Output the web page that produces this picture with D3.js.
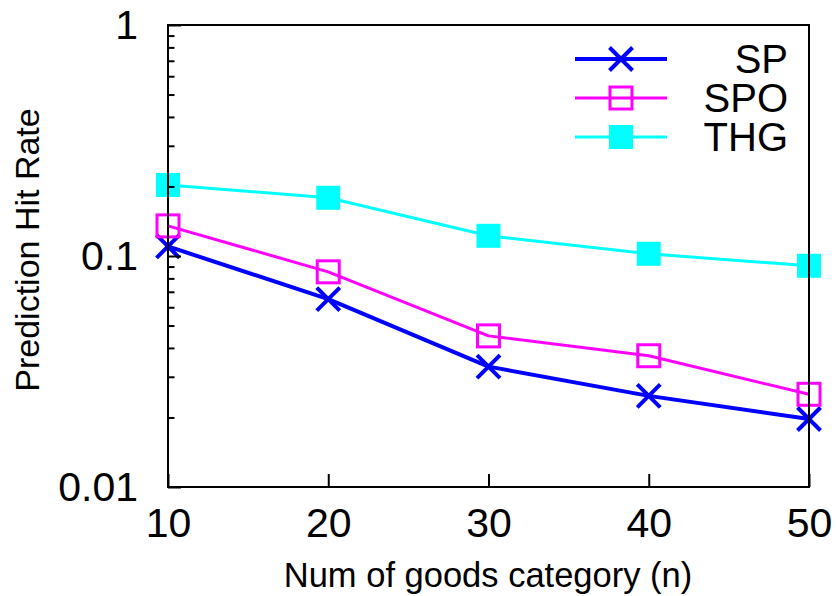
<!DOCTYPE html>
<html>
<head>
<meta charset="utf-8">
<script src="https://cdn.jsdelivr.net/npm/d3@7"></script>
<style>
  html, body { margin: 0; padding: 0; background: #fff; }
  svg { display: block; }
  text { font-family: "Liberation Sans", Arial, sans-serif; fill: #000; }
</style>
</head>
<body>
<script>
// Prediction hit rate vs. number of goods categories
const categories = [10, 20, 30, 40, 50];
const seriesNames = ["SP", "SPO", "THG"];
const spValues  = [0.110, 0.0651, 0.0332, 0.0248, 0.0197];
const spoValues = [0.135, 0.0854, 0.0451, 0.0370, 0.0252];
const thgValues = [0.203, 0.1786, 0.1223, 0.1022, 0.0907];
const xTickLabels = ["10", "20", "30", "40", "50"];
const yTickValues = [0.01, 0.1, 1];
const yTickLabels = ["0.01", "0.1", "1"];

const W = 839, H = 596;
const plot = { left: 168, right: 809, top: 25, bottom: 487 };

const svg = d3.select("body").append("svg")
  .attr("width", W).attr("height", H);

const x = d3.scaleLinear().domain([10, 50]).range([plot.left, plot.right]);
const y = d3.scaleLog().domain([0.01, 1]).range([plot.bottom, plot.top]);

const series = [
  { name: seriesNames[0], values: spValues,  color: "#0000ff", width: 4, marker: "x" },
  { name: seriesNames[1], values: spoValues, color: "#ff00ff", width: 3, marker: "box" },
  { name: seriesNames[2], values: thgValues, color: "#00ffff", width: 3, marker: "fbox" }
];

function drawMarker(g, kind, cx, cy, color) {
  if (kind === "x") {
    const r = 11.5;
    g.append("path")
      .attr("d", `M${cx - r},${cy - r}L${cx + r},${cy + r}M${cx - r},${cy + r}L${cx + r},${cy - r}`)
      .attr("stroke", color).attr("stroke-width", 4).attr("fill", "none");
  } else if (kind === "box") {
    const s = 22;
    g.append("rect")
      .attr("x", cx - s / 2).attr("y", cy - s / 2).attr("width", s).attr("height", s)
      .attr("fill", "none").attr("stroke", color).attr("stroke-width", 3);
  } else {
    const s = 24;
    g.append("rect")
      .attr("x", cx - s / 2).attr("y", cy - s / 2).attr("width", s).attr("height", s)
      .attr("fill", color);
  }
}

// Data lines and markers
const line = d3.line().x(d => x(d[0])).y(d => y(d[1]));
series.forEach(s => {
  const pts = categories.map((c, i) => [c, s.values[i]]);
  const g = svg.append("g");
  g.append("path").attr("d", line(pts))
    .attr("fill", "none").attr("stroke", s.color).attr("stroke-width", s.width)
    .attr("stroke-linejoin", "round");
  pts.forEach(p => drawMarker(g, s.marker, x(p[0]), y(p[1]), s.color));
});

// Legend
const legend = svg.append("g");
series.forEach((s, i) => {
  const ly = 59 + i * 39;
  legend.append("line").attr("x1", 575).attr("x2", 667).attr("y1", ly).attr("y2", ly)
    .attr("stroke", s.color).attr("stroke-width", s.width);
  drawMarker(legend, s.marker, 621, ly, s.color);
  legend.append("text").attr("x", 788).attr("y", ly + 14)
    .attr("text-anchor", "end").attr("font-size", 40).text(s.name);
});

// Axes (ticks point inward)
const xAxis = d3.axisBottom(x).tickValues(categories)
  .tickFormat((d, i) => xTickLabels[i]).tickSizeInner(-13).tickSizeOuter(0).tickPadding(21);
const gx = svg.append("g").attr("transform", `translate(0,${plot.bottom})`).call(xAxis);

const yAxis = d3.axisLeft(y).tickValues(yTickValues)
  .tickFormat((d, i) => yTickLabels[i]).tickSizeInner(-13).tickSizeOuter(0).tickPadding(30);
const gy = svg.append("g").attr("transform", `translate(${plot.left},0)`).call(yAxis);

const minorVals = [];
[0.01, 0.1].forEach(dec => { for (let k = 2; k <= 9; k++) minorVals.push(dec * k); });
const yMinor = d3.axisLeft(y).tickValues(minorVals).tickFormat("")
  .tickSizeInner(-6.5).tickSizeOuter(0);
const gym = svg.append("g").attr("transform", `translate(${plot.left},0)`).call(yMinor);

[gx, gy, gym].forEach(g => {
  g.select(".domain").remove();
  g.selectAll(".tick line").attr("stroke", "#000").attr("stroke-width", 2);
  g.selectAll(".tick text").attr("font-size", 41)
    .attr("font-family", "'Liberation Sans', Arial, sans-serif").attr("fill", "#000");
});

// Border
svg.append("rect")
  .attr("x", plot.left).attr("y", plot.top)
  .attr("width", plot.right - plot.left).attr("height", plot.bottom - plot.top)
  .attr("fill", "none").attr("stroke", "#000").attr("stroke-width", 2);

// Axis titles
svg.append("text").attr("x", 488).attr("y", 587)
  .attr("text-anchor", "middle").attr("font-size", 34.5).text("Num of goods category (n)");
svg.append("text").attr("transform", `translate(39,250) rotate(-90)`)
  .attr("text-anchor", "middle").attr("font-size", 34).text("Prediction Hit Rate");
</script>
</body>
</html>
